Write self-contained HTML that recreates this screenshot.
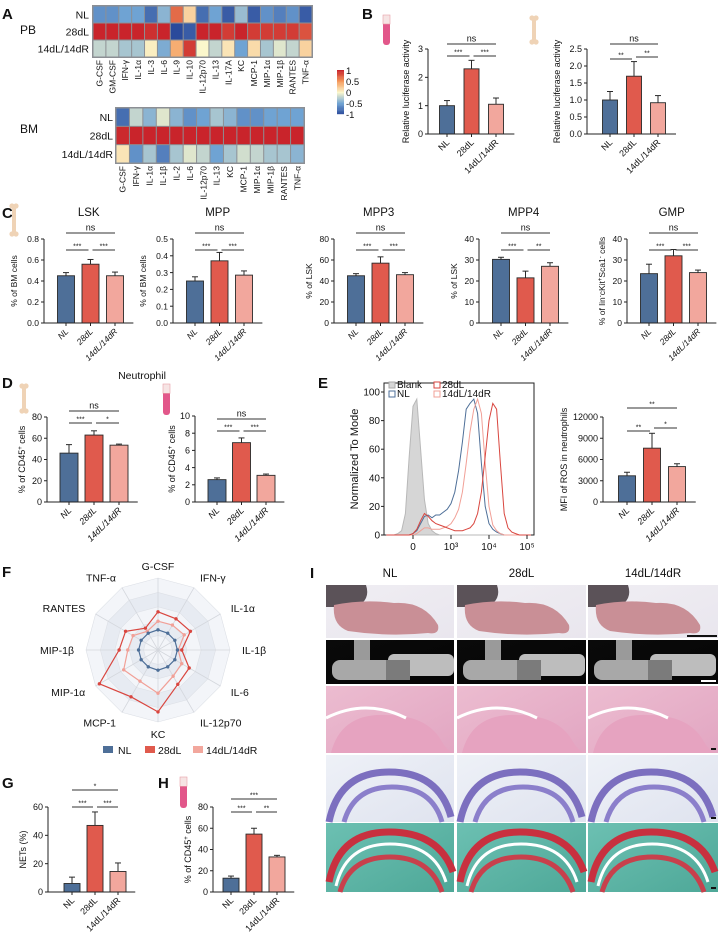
<!DOCTYPE html>
<html><head><meta charset="utf-8">
<style>
html,body{margin:0;padding:0;background:#fff;}
svg{display:block;font-family:"Liberation Sans",Arial,sans-serif;}
</style></head>
<body>
<svg id="fig" width="727" height="944" viewBox="0 0 727 944" xmlns="http://www.w3.org/2000/svg"></svg>
<script>
// ===== DATA =====
const cats=['NL','28dL','14dL/14dR'];
const pbCols=['G-CSF','GM-CSF','IFN-γ','IL-1α','IL-3','IL-6','IL-9','IL-10','IL-12p70','IL-13','IL-17A','KC','MCP-1','MIP-1α','MIP-1β','RANTES','TNF-α'];
const pbNL=[-0.6,-0.6,-0.5,-0.5,-0.8,-0.4,0.7,0.2,-0.8,-0.5,-0.9,-0.35,-0.9,-0.6,-0.7,-0.6,-0.9];
const pb28=[1,1,1,1,0.95,1,-1,-0.9,1,1,0.9,1,0.9,0.9,0.9,0.9,0.8];
const pb14=[-0.2,-0.2,-0.3,-0.3,0.05,-0.45,0.4,0.9,0,-0.2,0.1,-0.5,0.15,-0.3,-0.1,-0.2,0.2];
const bmCols=['G-CSF','IFN-γ','IL-1α','IL-1β','IL-2','IL-6','IL-12p70','IL-13','KC','MCP-1','MIP-1α','MIP-1β','RANTES','TNF-α'];
const bmNL=[-0.8,-0.2,-0.4,-0.1,-0.4,-0.6,-0.5,-0.3,-0.4,-0.6,-0.6,-0.5,-0.5,-0.5];
const bm28=[0.98,1,1,1,1,1,1,1,1,1,1,1,1,1];
const bm14=[0.1,-0.6,-0.3,-0.7,-0.3,-0.1,-0.2,-0.5,-0.3,-0.15,-0.2,-0.3,-0.3,-0.4];
const cbTicks=[1,0.5,0,-0.5,-1];

const b1Vals=[1,2.3,1.05], b1Errs=[0.18,0.3,0.22], b1Ticks=[0,1,2,3];
const b2Vals=[1,1.7,0.92], b2Errs=[0.25,0.43,0.21], b2Ticks=[0,0.5,1,1.5,2,2.5];
const lskVals=[0.45,0.56,0.45], lskErrs=[0.03,0.045,0.035], lskTicks=[0,0.2,0.4,0.6,0.8];
const mppVals=[0.25,0.37,0.285], mppErrs=[0.025,0.05,0.025], mppTicks=[0,0.1,0.2,0.3,0.4,0.5];
const mpp3Vals=[45,57,46], mpp3Errs=[2,6,2], mpp3Ticks=[0,20,40,60,80];
const mpp4Vals=[30.3,21.5,27], mpp4Errs=[1,3.2,1.7], mpp4Ticks=[0,10,20,30,40];
const gmpVals=[23.5,32,24], gmpErrs=[4.5,3,1.2], gmpTicks=[0,10,20,30,40];
const d1Vals=[46,63,53.5], d1Errs=[8,4,1], d1Ticks=[0,20,40,60,80];
const d2Vals=[2.6,6.9,3.1], d2Errs=[0.2,0.55,0.15], d2Ticks=[0,2,4,6,8,10];
const rosVals=[3700,7600,5000], rosErrs=[500,2100,400], rosTicks=[0,3000,6000,9000,12000];
const gVals=[6,47,14.5], gErrs=[4.5,9.5,6], gTicks=[0,20,40,60];
const hVals=[13,54.5,33], hErrs=[2,5.5,1.5], hTicks=[0,20,40,60,80];

const histU=[-0.7,-0.6,-0.5,-0.4,-0.3,-0.2,-0.1,0,0.1,0.2,0.3,0.4,0.5,0.6,0.7,0.8,0.9,1.0,1.1,1.2,1.3,1.4,1.5,1.6,1.7,1.8,1.9,2.0,2.1,2.2,2.3,2.4,2.5,2.6,2.7,2.8,2.9,3.0,3.1];
const histBlank=[0,0,0,1,3,15,55,90,95,60,25,8,3,1,0,0,0,0,0,0,0,0,0,0,0,0,0,0,0,0,0,0,0,0,0,0,0,0,0];
const histNL=[0,0,0,0,0,0,0,1,3,8,13,14,12,14,14,16,18,22,30,45,65,88,92,95,85,50,20,8,4,2,1,0,0,0,0,0,0,0,0];
const hist28=[0,0,0,0,0,0,0,1,4,10,15,13,10,8,7,6,5,4,3,3,3,4,5,8,15,30,55,80,92,88,50,15,5,2,1,0,0,0,0];
const hist14=[0,0,0,0,0,0,0,0,1,3,5,5,4,4,4,5,6,8,12,18,30,50,72,88,95,85,50,20,7,3,1,0,0,0,0,0,0,0,0];
const histXTicks=[0,1,2,3], histXLabels=['0','10³','10⁴','10⁵'], histYTicks=[0,20,40,60,80,100];

const radarAxes=['G-CSF','IFN-γ','IL-1α','IL-1β','IL-6','IL-12p70','KC','MCP-1','MIP-1α','MIP-1β','RANTES','TNF-α'];
const radarNL=[0.28,0.27,0.27,0.27,0.27,0.27,0.28,0.27,0.27,0.27,0.27,0.27];
const radar28=[0.53,0.5,0.52,0.33,0.5,0.55,0.86,0.75,0.94,0.54,0.52,0.35];
const radar14=[0.4,0.4,0.42,0.28,0.38,0.42,0.6,0.5,0.55,0.42,0.4,0.3];

// ===== HELPERS =====
const NS='http://www.w3.org/2000/svg';
const svg=document.getElementById('fig');
function mk(tag,attrs,parent){const e=document.createElementNS(NS,tag);for(const k in attrs)e.setAttribute(k,attrs[k]);(parent||svg).appendChild(e);return e;}
function txt(s,x,y,attrs,parent){const a=Object.assign({x:x,y:y,'font-size':9,fill:'#111'},attrs||{});const t=mk('text',a,parent);t.textContent=s;return t;}
const colors=['#4e6f98','#e05a4d','#f2a79d'];
const lineCol=['#4e6f98','#d9463f','#f1a097'];

function cmap(v){const st=[[-1,[43,74,155]],[-0.5,[111,163,211]],[0,[251,247,204]],[0.5,[245,154,92]],[1,[201,36,43]]];
 v=Math.max(-1,Math.min(1,v));for(let i=0;i<st.length-1;i++){if(v<=st[i+1][0]){const t=(v-st[i][0])/(st[i+1][0]-st[i][0]);const c=st[i][1].map((a,k)=>Math.round(a+(st[i+1][1][k]-a)*t));return 'rgb('+c.join(',')+')';}}return 'rgb(201,36,43)';}

function letter(s,x,y){const t=txt(s,x,y,{'font-size':15,'font-weight':'bold'});

}

function tube(x,y,h){const g=mk('g',{});


mk('rect',{x:x,y:y,width:7,height:h,rx:3,fill:'#e2578a'},g);mk('rect',{x:x,y:y,width:7,height:h*0.3,fill:'#f6e4e4',stroke:'#e8a0a8','stroke-width':0.6},g);}
function bone(x,y,h){const g=mk('g',{});


mk('line',{x1:x,y1:y+3,x2:x,y2:y+h-3,stroke:'#efd3b6','stroke-width':4},g);
[[x-2,y+2],[x+2,y+2],[x-2,y+h-2],[x+2,y+h-2]].forEach(p=>mk('circle',{cx:p[0],cy:p[1],r:2.6,fill:'#efd3b6'},g));}

function heat(name,cols,rows,x0,y0,w,h,labRight){const g=mk('g',{});


const cw=w/cols.length,rh=h/rows.length;
mk('rect',{x:x0-1,y:y0-1,width:w+2,height:h+2,fill:'#8c8f94'},g);
rows.forEach((r,ri)=>{r.forEach((v,ci)=>{const c=mk('rect',{x:x0+ci*cw+0.5,y:y0+ri*rh+0.5,width:cw-1,height:rh-1,fill:cmap(v)},g);

});
const l=txt(cats[ri],labRight,y0+ri*rh+rh/2+4,{'font-size':10.5,'text-anchor':'end'},g);

});
cols.forEach((c,ci)=>{const cx=x0+ci*cw+cw/2+3;const t=txt(c,cx,y0+h+3,{'font-size':8.5,'text-anchor':'end',transform:'rotate(-90 '+cx+' '+(y0+h+3)+')'},g);

});}

function fmt(v,d){return d==null?String(v):v.toFixed(d);}
function barChart(name,c){const g=mk('g',{});


const max=c.ticks[c.ticks.length-1];const ys=v=>c.yB-(v/max)*(c.yB-c.yT);
const cx=[0,1,2].map(i=>c.x0+c.off+i*c.gap);const end=cx[2]+c.gap*0.75;
c.vals.forEach((v,i)=>{const b=mk('rect',{x:cx[i]-c.bw/2,y:ys(v),width:c.bw,height:c.yB-ys(v),fill:colors[i],stroke:'#2a2a2a','stroke-width':0.9},g);


const te=ys(v+c.errs[i]);mk('line',{x1:cx[i],y1:ys(v),x2:cx[i],y2:te,stroke:'#2a2a2a','stroke-width':1},g);
mk('line',{x1:cx[i]-3,y1:te,x2:cx[i]+3,y2:te,stroke:'#2a2a2a','stroke-width':1},g);
mk('line',{x1:cx[i],y1:c.yB,x2:cx[i],y2:c.yB+3,stroke:'#222','stroke-width':1},g);
const lx=cx[i]+3,ly=c.yB+9;const l=txt(cats[i],lx,ly,{'font-size':c.fs||9,'text-anchor':'end','font-style':c.italic?'italic':'normal',transform:'rotate(-45 '+lx+' '+ly+')'},g);

});
mk('line',{x1:c.x0,y1:c.yT,x2:c.x0,y2:c.yB,stroke:'#222','stroke-width':1},g);
mk('line',{x1:c.x0,y1:c.yB,x2:end,y2:c.yB,stroke:'#222','stroke-width':1},g);
c.ticks.forEach(t=>{const y=ys(t);mk('line',{x1:c.x0-3,y1:y,x2:c.x0,y2:y,stroke:'#222','stroke-width':1},g);
const l=txt(fmt(t,c.dec),c.x0-5,y+3.2,{'font-size':c.fs||9,'text-anchor':'end'},g);

});
const yl=c.x0-c.ylOff,ym=(c.yT+c.yB)/2;const t=mk('text',{x:yl,y:ym,'font-size':c.fs||9,'text-anchor':'middle',fill:'#111',transform:'rotate(-90 '+yl+' '+ym+')'},g);t.innerHTML=c.ylab;


if(c.title){const tt=txt(c.title,(c.x0+end)/2,c.titleY,{'font-size':11.5,'text-anchor':'middle'},g);

}
c.sigs.forEach(s=>{let a=cx[s[0]],b=cx[s[1]];if(s[1]-s[0]==1){if(s[0]==0)b-=2;else a+=2;}
mk('line',{x1:a,y1:s[2],x2:b,y2:s[2],stroke:'#333','stroke-width':1},g);
const st=txt(s[3],(a+b)/2,s[2]-(s[3]=='ns'?2.5:1.5),{'font-size':s[3]=='ns'?9:7,'text-anchor':'middle'},g);

});}

// ===== PANEL A =====
letter('A',2,19);
txt('PB',20,34,{'font-size':12});
txt('BM',20,133,{'font-size':12});
heat('heatmap-pb',pbCols,[pbNL,pb28,pb14],93,6,219,51,89);
heat('heatmap-bm',bmCols,[bmNL,bm28,bm14],116,108,188,55,113);
(function(){const g=mk('g',{});


for(let i=0;i<40;i++){const v=1-i/20;mk('rect',{x:337,y:70+i*1.1,width:7,height:1.3,fill:cmap(v)},g);}
cbTicks.forEach(t=>{const y=70+(1-t)*22+3;txt(String(t),346,y+1,{'font-size':9.5},g);});})();

// ===== PANEL B =====
letter('B',362,19);
tube(383,15,30);bone(534,16,28);
barChart('chart-b-blood',{x0:428,yB:134,yT:49,ticks:b1Ticks,vals:b1Vals,errs:b1Errs,off:19,gap:24.5,bw:15,ylab:'Relative luciferase activity',ylOff:19,sigs:[[0,2,44,'ns'],[0,1,56,'***'],[1,2,56,'***']]});
barChart('chart-b-bone',{x0:587,yB:134,yT:49,ticks:b2Ticks,dec:1,vals:b2Vals,errs:b2Errs,off:23,gap:24,bw:15,ylab:'Relative luciferase activity',ylOff:27,sigs:[[0,2,44,'ns'],[0,1,59,'**'],[1,2,57,'**']]});

// ===== PANEL C =====
letter('C',2,218);
bone(14,204,32);
const cCfg={yB:323,yT:239,off:22,gap:24.5,bw:17,fs:8.5,italic:true,titleY:216};
barChart('chart-lsk',Object.assign({},cCfg,{x0:44,ticks:lskTicks,dec:1,vals:lskVals,errs:lskErrs,ylab:'% of BM cells',ylOff:27,title:'LSK',sigs:[[0,2,233,'ns'],[0,1,250,'***'],[1,2,250,'***']]}));
barChart('chart-mpp',Object.assign({},cCfg,{x0:173,ticks:mppTicks,dec:1,vals:mppVals,errs:mppErrs,ylab:'% of BM cells',ylOff:27,title:'MPP',sigs:[[0,2,233,'ns'],[0,1,250,'***'],[1,2,250,'***']]}));
barChart('chart-mpp3',Object.assign({},cCfg,{x0:334,ticks:mpp3Ticks,vals:mpp3Vals,errs:mpp3Errs,ylab:'% of LSK',ylOff:22,title:'MPP3',sigs:[[0,2,233,'ns'],[0,1,250,'***'],[1,2,250,'***']]}));
barChart('chart-mpp4',Object.assign({},cCfg,{x0:479,ticks:mpp4Ticks,vals:mpp4Vals,errs:mpp4Errs,ylab:'% of LSK',ylOff:22,title:'MPP4',sigs:[[0,2,233,'ns'],[0,1,250,'***'],[1,2,250,'**']]}));
barChart('chart-gmp',Object.assign({},cCfg,{x0:627,ticks:gmpTicks,vals:gmpVals,errs:gmpErrs,ylab:'% of lin<tspan font-size="6" dy="-3">-</tspan><tspan dy="3">cKit</tspan><tspan font-size="6" dy="-3">+</tspan><tspan dy="3">Sca1</tspan><tspan font-size="6" dy="-3">-</tspan><tspan dy="3"> cells</tspan>',ylOff:22,title:'GMP',sigs:[[0,2,233,'ns'],[0,1,250,'***'],[1,2,250,'***']]}));

// ===== PANEL D =====
letter('D',2,388);
txt('Neutrophil',142,379,{'font-size':10.5,'text-anchor':'middle'});
bone(24,384,29);tube(163,384,31);
const cd45='% of CD45<tspan font-size="6" dy="-3">+</tspan><tspan dy="3"> cells</tspan>';
barChart('chart-d-bone',{x0:47,yB:502,yT:417,ticks:d1Ticks,vals:d1Vals,errs:d1Errs,off:22,gap:25,bw:18,fs:9,italic:true,ylab:cd45,ylOff:22,sigs:[[0,2,411,'ns'],[0,1,423,'***'],[1,2,423,'*']]});
barChart('chart-d-blood',{x0:195,yB:502,yT:416,ticks:d2Ticks,vals:d2Vals,errs:d2Errs,off:22,gap:24.5,bw:18,fs:9,italic:true,ylab:cd45,ylOff:20,sigs:[[0,2,419,'ns'],[0,1,431,'***'],[1,2,431,'***']]});

// ===== PANEL E =====
letter('E',318,388);
(function(){const g=mk('g',{});


const px=u=>413+u*38, py=v=>535-v*1.43;
mk('rect',{x:384,y:383,width:150,height:152,fill:'none',stroke:'#222','stroke-width':1},g);
function path(arr,fill,stroke,nm){let d='M'+px(histU[0])+' '+py(arr[0]);for(let i=1;i<histU.length;i++)d+=' L'+px(histU[i]).toFixed(1)+' '+py(arr[i]).toFixed(1);
if(fill)d+=' L'+px(histU[histU.length-1])+' '+py(0)+' Z';const p=mk('path',{d:d,fill:fill||'none',stroke:stroke,'stroke-width':1},g);

}
path(histBlank,'#d6d6d6','#b8b8b8','hist-blank');
path(histNL,null,lineCol[0],'hist-nl');path(hist14,null,lineCol[2],'hist-14dl-14dr');path(hist28,null,lineCol[1],'hist-28dl');
histYTicks.forEach(t=>{mk('line',{x1:381,y1:py(t),x2:384,y2:py(t),stroke:'#222'},g);txt(String(t),380,py(t)+3.5,{'font-size':10,'text-anchor':'end'},g);});
histXTicks.forEach((t,i)=>{mk('line',{x1:px(t),y1:535,x2:px(t),y2:539,stroke:'#222'},g);txt(histXLabels[i],px(t),550,{'font-size':10,'text-anchor':'middle'},g);});
const yl=mk('text',{x:358,y:459,'font-size':11,'text-anchor':'middle',fill:'#111',transform:'rotate(-90 358 459)'},g);yl.textContent='Normalized To Mode';


const leg=[['Blank','#d6d6d6','#aaa',389,388],['NL','#fff',lineCol[0],389,397],['28dL','#fff',lineCol[1],434,388],['14dL/14dR','#fff',lineCol[2],434,397]];
leg.forEach(l=>{const r=mk('rect',{x:l[3],y:l[4]-6,width:6,height:6,fill:l[1],stroke:l[2]},g);


txt(l[0],l[3]+8,l[4],{'font-size':10},g);});})();
barChart('chart-e-ros',{x0:603,yB:502,yT:417,ticks:rosTicks,vals:rosVals,errs:rosErrs,off:24,gap:25,bw:17,fs:9,italic:true,ylab:'MFI of ROS in neutrophils',ylOff:36,sigs:[[0,2,408,'**'],[0,1,431,'**'],[1,2,428,'*']]});

// ===== PANEL F =====
letter('F',2,577);
(function(){const g=mk('g',{});


const cx=158,cy=650,R=72,n=radarAxes.length;const ang=i=>-Math.PI/2+i*2*Math.PI/n;
const pt=(i,r)=>[cx+Math.cos(ang(i))*r,cy+Math.sin(ang(i))*r];
for(let k=5;k>=1;k--){const r=R*k/5;const p=radarAxes.map((a,i)=>pt(i,r).map(v=>v.toFixed(1)).join(',')).join(' ');
mk('polygon',{points:p,fill:k%2?'#f3f5f9':'#e7ebf2',stroke:'#dde0e6','stroke-width':0.6},g);}
radarAxes.forEach((a,i)=>{const e=pt(i,R);mk('line',{x1:cx,y1:cy,x2:e[0],y2:e[1],stroke:'#d4d7dd','stroke-width':0.8},g);
const lp=pt(i,84);const side=Math.abs(lp[0]-cx)<6?'middle':(lp[0]>cx?'start':'end');
const t=txt(a,lp[0],lp[1]+4,{'font-size':10.5,'text-anchor':side},g);

});
[[radar14,2],[radar28,1],[radarNL,0]].forEach(s=>{const pts=s[0].map((v,i)=>pt(i,v*R));
const pg=mk('polygon',{points:pts.map(p=>p.map(v=>v.toFixed(1)).join(',')).join(' '),fill:'none',stroke:lineCol[s[1]],'stroke-width':1.2},g);


pts.forEach(p=>mk('circle',{cx:p[0],cy:p[1],r:1.7,fill:lineCol[s[1]]},g));});
const leg=[[103,118,0],[145,158,1],[193,206,2]];
leg.forEach(l=>{const r=mk('rect',{x:l[0],y:746,width:10,height:7,fill:colors[l[2]]},g);


txt(cats[l[2]],l[1],754,{'font-size':10.5},g);});})();

// ===== PANEL G/H =====
letter('G',2,788);
letter('H',158,788);
tube(180,777,31);
barChart('chart-g-nets',{x0:48,yB:892,yT:807,ticks:gTicks,vals:gVals,errs:gErrs,off:24,gap:23,bw:16,fs:9,ylab:'NETs (%)',ylOff:22,sigs:[[0,2,790,'*'],[0,1,807,'***'],[1,2,807,'***']]});
barChart('chart-h-cd45',{x0:213,yB:892,yT:807,ticks:hTicks,vals:hVals,errs:hErrs,off:18,gap:23,bw:16,fs:9,ylab:cd45,ylOff:22,sigs:[[0,2,799,'***'],[0,1,812,'***'],[1,2,812,'**']]});

// ===== PANEL I =====
txt('I',310,578,{'font-size':15,'font-weight':'bold'});
(function(){const defs=mk('defs',{});
const grads={photo:['#f0eef3','#e9e6ee'],ct:['#0a0a0a','#050505'],he:['#ecbcd0','#e2a6c2'],tb:['#eef1f7','#dfe3ef'],sf:['#6cc0b2','#4ea898']};
for(const k in grads){const lg=mk('linearGradient',{id:'g'+k,x1:0,y1:0,x2:1,y2:1},defs);mk('stop',{offset:0,'stop-color':grads[k][0]},lg);mk('stop',{offset:1,'stop-color':grads[k][1]},lg);}
const colsX=[326,457,588],colW=[128,129,130];const titles=['NL','28dL','14dL/14dR'];
const rows=[['photo',585,53],['ct',640,44],['he',686,67],['tb',755,67],['sf',823,69]];
colsX.forEach((x,ci)=>{const t=txt(titles[ci],x+colW[ci]/2,577,{'font-size':11.5,'text-anchor':'middle'});


rows.forEach(r=>{const g=mk('g',{});


const w=colW[ci],y=r[1],h=r[2];mk('rect',{x:x,y:y,width:w,height:h,fill:'url(#g'+r[0]+')'},g);
if(r[0]=='photo'){mk('path',{d:`M${x} ${y} h40 q5 15 -10 22 h-30 z`,fill:'#5b5258'},g);
mk('path',{d:`M${x+8} ${y+20} q30 -6 60 -2 q30 -2 44 22 q2 10 -10 8 q-40 4 -80 -2 q-16 -6 -14 -26z`,fill:'#c98f96'},g);}
if(r[0]=='ct'){mk('rect',{x:x+28,y:y,width:16,height:22,fill:'#9a9a9a'},g);
mk('rect',{x:x+6,y:y+20,width:62,height:20,rx:8,fill:'#a8a8a8'},g);
mk('rect',{x:x+62,y:y+14,width:66,height:22,rx:6,fill:'#bdbdbd'},g);
mk('rect',{x:x+60,y:y+20,width:24,height:20,fill:'#7b7b7b'},g);}
if(r[0]=='he'){mk('path',{d:`M${x+5} ${y+h} q10 -40 55 -38 q40 0 55 25 q5 10 13 13 v0 z`,fill:'#e6a3c0'},g);
mk('path',{d:`M${x} ${y+32} q40 -20 80 0`,fill:'none',stroke:'#fff','stroke-width':3},g);}
if(r[0]=='tb'){mk('path',{d:`M${x+3} ${y+h} q10 -50 60 -50 q50 0 62 45`,fill:'none',stroke:'#7c6fbf','stroke-width':7},g);
mk('path',{d:`M${x+18} ${y+h} q10 -35 48 -35 q40 0 50 35`,fill:'none',stroke:'#8b7fcb','stroke-width':5},g);}
if(r[0]=='sf'){mk('path',{d:`M${x+3} ${y+h-10} q10 -50 60 -50 q50 0 64 40`,fill:'none',stroke:'#c8303f','stroke-width':7},g);
mk('path',{d:`M${x+14} ${y+h} q10 -35 50 -35 q40 0 52 35`,fill:'none',stroke:'#c8404c','stroke-width':5},g);
mk('path',{d:`M${x+10} ${y+h-6} q10 -42 54 -42 q44 0 56 38`,fill:'none',stroke:'#fff','stroke-width':3},g);}
if(ci==2){if(r[0]=='photo')mk('rect',{x:687,y:y+h-3,width:30,height:2,fill:'#111'},g);
else if(r[0]=='ct')mk('rect',{x:701,y:y+h-4,width:15,height:2,fill:'#fff'},g);
else mk('rect',{x:711,y:y+h-5,width:5,height:2,fill:'#111'},g);}});});})();
</script>
</body></html>
